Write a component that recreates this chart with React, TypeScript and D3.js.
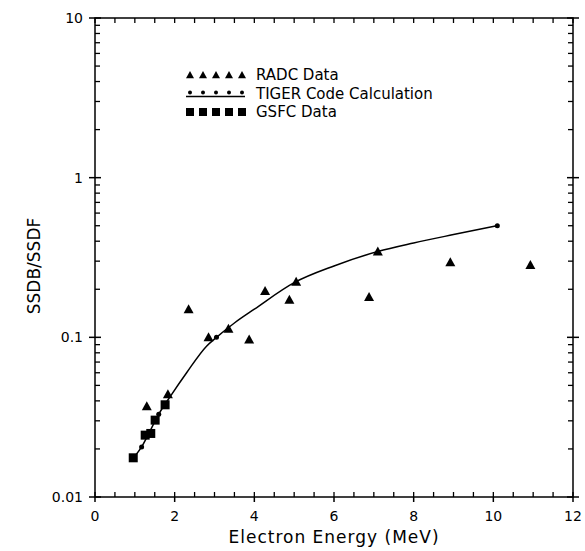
import React from "react";
import * as d3 from "d3";

const radcX = [1.3, 1.83, 2.35, 2.85, 3.35, 3.87, 4.27, 4.88, 5.05, 6.88, 7.1, 8.92, 10.93];
const radcY = [0.037, 0.044, 0.15, 0.1, 0.113, 0.097, 0.195, 0.172, 0.223, 0.179, 0.345, 0.295, 0.284];

const gsfcX = [0.96, 1.26, 1.4, 1.51, 1.76];
const gsfcY = [0.0176, 0.0244, 0.025, 0.0303, 0.0378];

const tigerX = [1.0, 1.17, 1.35, 1.6, 1.9, 2.3, 2.8, 3.05, 3.5, 4.0, 5.0, 6.0, 7.1, 8.0, 9.0, 10.1];
const tigerY = [0.018, 0.0206, 0.025, 0.033, 0.043, 0.06, 0.088, 0.1, 0.123, 0.15, 0.22, 0.28, 0.345, 0.39, 0.44, 0.5];
const tigerMarkX = [1.17, 1.6, 3.05, 10.1];

const xTicks = [0, 2, 4, 6, 8, 10, 12];
const yTicks = [0.01, 0.1, 1, 10];
const yTickLabels = ["0.01", "0.1", "1", "10"];

const legendItems = ["RADC Data", "TIGER Code Calculation", "GSFC Data"];

const W = 585, H = 551;
const L = 95, R = 573, T = 18, B = 497;
const font = "'DejaVu Sans', sans-serif";

export default function App() {
  const x = d3.scaleLinear().domain([0, 12]).range([L, R]);
  const y = d3.scaleLog().domain([0.01, 10]).range([B, T]);
  const line = d3.line<number>().x((_, i) => x(tigerX[i])).y((d) => y(d)).curve(d3.curveMonotoneX);

  const minorY: number[] = [];
  [0.01, 0.1, 1].forEach((d) => { for (let k = 2; k <= 9; k++) minorY.push(d * k); });
  const minorX = d3.range(0, 12.01, 0.5);

  const tri = (cx: number, cy: number, s = 5) => `M${cx},${cy - s}L${cx + s},${cy + s * 0.8}L${cx - s},${cy + s * 0.8}Z`;

  return (
    <svg width={W} height={H} style={{ position: "absolute", left: 0, top: 0, background: "#fff" }}>
      <rect x={0} y={0} width={W} height={H} fill="#fff" />
      <rect x={L} y={T} width={R - L} height={B - T} fill="none" stroke="#000" strokeWidth={1.5} />
      {yTicks.map((d) => (
        <g key={"yt" + d}>
          <line x1={L - 6} x2={L + 6} y1={y(d)} y2={y(d)} stroke="#000" strokeWidth={1.5} />
          <line x1={R - 6} x2={R + 6} y1={y(d)} y2={y(d)} stroke="#000" strokeWidth={1.5} />
        </g>
      ))}
      {minorY.map((d) => (
        <g key={"ym" + d}>
          <line x1={L} x2={L + 5} y1={y(d)} y2={y(d)} stroke="#000" strokeWidth={1.3} />
          <line x1={R - 5} x2={R} y1={y(d)} y2={y(d)} stroke="#000" strokeWidth={1.3} />
        </g>
      ))}
      {minorX.map((d) => (
        <g key={"xm" + d}>
          <line x1={x(d)} x2={x(d)} y1={B} y2={B - 5} stroke="#000" strokeWidth={1.3} />
          <line x1={x(d)} x2={x(d)} y1={T} y2={T + 5} stroke="#000" strokeWidth={1.3} />
        </g>
      ))}
      {xTicks.map((d) => (
        <g key={"xt" + d}>
          <line x1={x(d)} x2={x(d)} y1={B} y2={B + 5} stroke="#000" strokeWidth={1.5} />
          <text x={x(d)} y={B + 24} textAnchor="middle" fontFamily={font} fontSize={14}>{d}</text>
        </g>
      ))}
      {yTicks.map((d, i) => (
        <text key={"yl" + d} x={L - 12} y={y(d) + 5} textAnchor="end" fontFamily={font} fontSize={14}>{yTickLabels[i]}</text>
      ))}
      <text x={(L + R) / 2} y={H - 8} textAnchor="middle" fontFamily={font} fontSize={17} letterSpacing={1}>Electron Energy (MeV)</text>
      <text transform={`translate(40,266) rotate(-90)`} textAnchor="middle" fontFamily={font} fontSize={17}>SSDB/SSDF</text>

      <path d={line(tigerY) || ""} fill="none" stroke="#000" strokeWidth={1.5} />
      {tigerMarkX.map((d) => {
        const i = tigerX.indexOf(d);
        return <circle key={"tm" + d} cx={x(d)} cy={y(tigerY[i])} r={2.5} fill="#000" />;
      })}
      {gsfcX.map((d, i) => (
        <rect key={"g" + i} x={x(d) - 4.5} y={y(gsfcY[i]) - 4.5} width={9} height={9} fill="#000" />
      ))}
      {radcX.map((d, i) => (
        <path key={"r" + i} d={tri(x(d), y(radcY[i]))} fill="#000" />
      ))}

      {legendItems.map((t, j) => {
        const ly = 75 + j * 18.5;
        return (
          <g key={t}>
            {d3.range(5).map((k) => {
              const cx = 190 + k * 13;
              if (j === 0) return <path key={k} d={tri(cx, ly, 4)} fill="#000" />;
              if (j === 1) return <circle key={k} cx={cx} cy={ly - 1} r={2} fill="#000" />;
              return <rect key={k} x={cx - 4} y={ly - 4} width={8} height={8} fill="#000" />;
            })}
            {j === 1 && <line x1={186} x2={245} y1={ly + 3} y2={ly + 3} stroke="#000" strokeWidth={1.5} />}
            <text x={256} y={ly + 5} fontFamily={font} fontSize={15}>{t}</text>
          </g>
        );
      })}
    </svg>
  );
}
